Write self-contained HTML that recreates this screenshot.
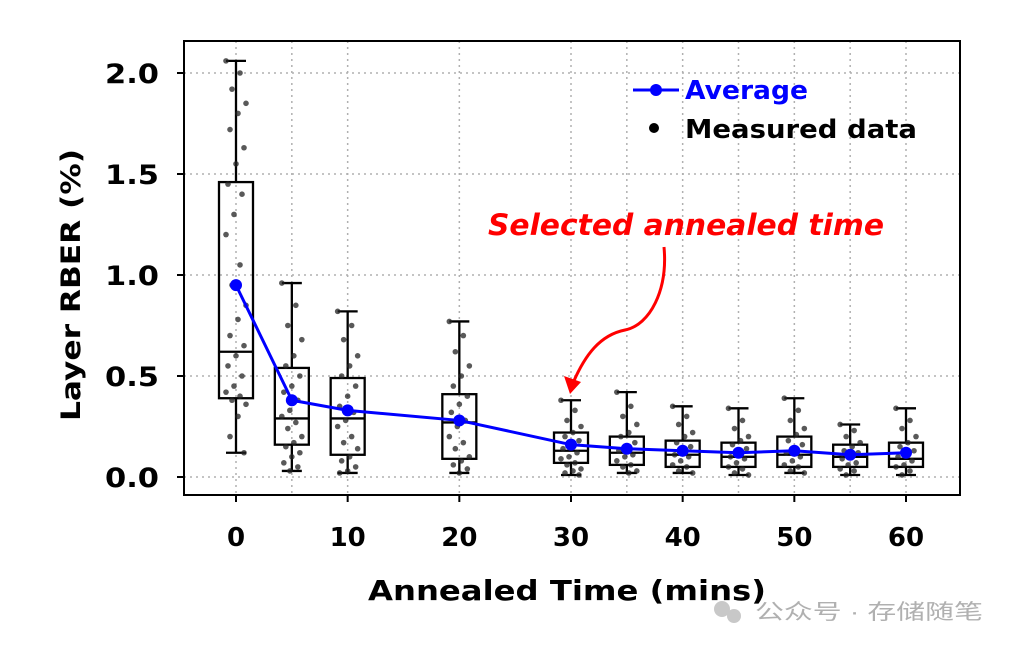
<!DOCTYPE html>
<html><head><meta charset="utf-8"><style>
body{margin:0;background:#fff;}
svg{display:block;font-family:"DejaVu Sans","Liberation Sans",sans-serif;}
</style></head><body>
<svg id="chart" width="1018" height="654">
<rect x="184" y="41" width="776" height="454" fill="#fff"/>
<g id="grid"></g><g id="boxes"></g><g id="dots"></g><g id="avg"></g>
<rect x="184" y="41" width="776" height="454" fill="none" stroke="#000" stroke-width="2"/>
<g id="axes"></g>
<text x="80" y="285" transform="rotate(-90 80 285)" text-anchor="middle" font-size="27" font-weight="bold" textLength="272" lengthAdjust="spacingAndGlyphs">Layer RBER (%)</text>
<text x="567" y="600" text-anchor="middle" font-size="28" font-weight="bold" textLength="398" lengthAdjust="spacingAndGlyphs">Annealed Time (mins)</text>
<g>
<line x1="633" y1="90" x2="679" y2="90" stroke="#0000ff" stroke-width="3"/>
<circle cx="656" cy="90" r="6" fill="#0000ff"/>
<text x="685" y="99" font-size="26" font-weight="bold" fill="#0000ff" textLength="123" lengthAdjust="spacingAndGlyphs">Average</text>
<circle cx="654" cy="128" r="5" fill="#000"/>
<text x="685" y="138" font-size="26" font-weight="bold" fill="#000" textLength="232" lengthAdjust="spacingAndGlyphs">Measured data</text>
</g>
<text x="488" y="235" font-size="29" font-weight="bold" font-style="italic" fill="#ff0000" textLength="396" lengthAdjust="spacingAndGlyphs">Selected annealed time</text>
<path d="M664,247 C668,290 650,325 625,330 C600,335 585,355 573,383" fill="none" stroke="#ff0000" stroke-width="3"/>
<polygon points="570,394 564,376 581,382" fill="#ff0000"/>
<g>
<circle cx="722" cy="609" r="8" fill="#c8c8c8"/><circle cx="734" cy="616" r="7" fill="#c8c8c8"/>
<text x="755" y="619" font-size="21" fill="#b0b0b0" textLength="228" lengthAdjust="spacingAndGlyphs" font-family="'Liberation Sans','Noto Sans CJK SC',sans-serif">公众号 · 存储随笔</text>
</g>
</svg>
<script>
const times=[0,5,10,20,30,35,40,45,50,55,60];
const whiskLo=[0.12,0.03,0.02,0.02,0.01,0.02,0.02,0.01,0.02,0.01,0.01];
const whiskHi=[2.06,0.96,0.82,0.77,0.38,0.42,0.35,0.34,0.39,0.26,0.34];
const q1=[0.39,0.16,0.11,0.09,0.07,0.06,0.05,0.05,0.05,0.05,0.05];
const med=[0.62,0.29,0.29,0.27,0.13,0.12,0.11,0.10,0.11,0.10,0.09];
const q3=[1.46,0.54,0.49,0.41,0.22,0.20,0.18,0.17,0.20,0.16,0.17];
const avg=[0.95,0.38,0.33,0.28,0.16,0.14,0.13,0.12,0.13,0.11,0.12];
const samples=[
[2.06,2.0,1.92,1.85,1.8,1.72,1.63,1.55,1.45,1.4,1.3,1.2,1.05,0.95,0.85,0.78,0.7,0.65,0.6,0.55,0.5,0.45,0.42,0.4,0.38,0.36,0.3,0.2,0.12],
[0.96,0.85,0.75,0.68,0.6,0.55,0.5,0.45,0.42,0.38,0.33,0.3,0.27,0.24,0.2,0.17,0.15,0.12,0.1,0.07,0.05,0.03],
[0.82,0.75,0.68,0.6,0.55,0.5,0.45,0.4,0.35,0.32,0.28,0.25,0.2,0.17,0.14,0.1,0.08,0.05,0.03,0.02],
[0.77,0.7,0.62,0.55,0.5,0.45,0.4,0.36,0.32,0.28,0.25,0.2,0.17,0.14,0.1,0.08,0.06,0.04,0.02],
[0.38,0.33,0.28,0.25,0.22,0.2,0.18,0.16,0.14,0.12,0.1,0.09,0.07,0.06,0.04,0.03,0.02,0.01],
[0.42,0.35,0.3,0.26,0.22,0.2,0.17,0.15,0.13,0.11,0.1,0.08,0.06,0.05,0.03,0.02],
[0.35,0.3,0.26,0.22,0.2,0.17,0.15,0.13,0.11,0.1,0.08,0.06,0.05,0.03,0.02],
[0.34,0.28,0.24,0.2,0.18,0.16,0.14,0.12,0.1,0.09,0.07,0.05,0.04,0.02,0.01],
[0.39,0.33,0.28,0.24,0.21,0.18,0.16,0.14,0.12,0.1,0.08,0.06,0.05,0.03,0.02],
[0.26,0.23,0.2,0.17,0.15,0.13,0.12,0.1,0.09,0.07,0.06,0.04,0.03,0.01],
[0.34,0.28,0.24,0.2,0.17,0.15,0.13,0.11,0.1,0.08,0.06,0.05,0.03,0.01]];
const yTicks=[0,0.5,1.0,1.5,2.0];
const xTicks=[0,10,20,30,40,50,60];
const xGrid=[0,5,10,20,30,35,40,45,50,55,60];
const NS="http://www.w3.org/2000/svg";
const X=t=>236+t*(906-236)/60;
const Y=v=>477-v*202;
function mk(p,tag,at){const e=document.createElementNS(NS,tag);for(const k in at)e.setAttribute(k,at[k]);p.appendChild(e);return e;}
const grid=document.getElementById('grid'),axes=document.getElementById('axes');
yTicks.forEach(v=>{
 const l=mk(grid,'line',{x1:184,x2:960,y1:Y(v),y2:Y(v),stroke:'#b0b0b0','stroke-width':1.5,'stroke-dasharray':'2,4'});
 
 
 mk(axes,'line',{x1:177,x2:184,y1:Y(v),y2:Y(v),stroke:'#000','stroke-width':2});
 const t=mk(axes,'text',{x:159,y:Y(v)+10,'text-anchor':'end','font-size':27,'font-weight':'bold',textLength:54,lengthAdjust:'spacingAndGlyphs'});
 t.textContent=v.toFixed(1);
 
 
});
xGrid.forEach(v=>{
 const l=mk(grid,'line',{x1:X(v),x2:X(v),y1:41,y2:495,stroke:'#b0b0b0','stroke-width':1.5,'stroke-dasharray':'2,4'});
 
 
});
xTicks.forEach(v=>{
 mk(axes,'line',{x1:X(v),x2:X(v),y1:495,y2:502,stroke:'#000','stroke-width':2});
 const t=mk(axes,'text',{x:X(v),y:546,'text-anchor':'middle','font-size':26,'font-weight':'bold'});
 t.textContent=v;
 
 
});
const boxes=document.getElementById('boxes'),dots=document.getElementById('dots');
times.forEach((t,i)=>{
 const cx=X(t);
 const g=mk(boxes,'g',{stroke:'#000','stroke-width':2.3,fill:'none'});
 
 
 mk(g,'line',{x1:cx,x2:cx,y1:Y(whiskHi[i]),y2:Y(q3[i])});
 mk(g,'line',{x1:cx,x2:cx,y1:Y(q1[i]),y2:Y(whiskLo[i])});
 mk(g,'line',{x1:cx-10,x2:cx+10,y1:Y(whiskHi[i]),y2:Y(whiskHi[i])});
 mk(g,'line',{x1:cx-10,x2:cx+10,y1:Y(whiskLo[i]),y2:Y(whiskLo[i])});
 mk(g,'rect',{x:cx-17,y:Y(q3[i]),width:34,height:Y(q1[i])-Y(q3[i])});
 mk(g,'line',{x1:cx-17,x2:cx+17,y1:Y(med[i]),y2:Y(med[i])});
 samples[i].forEach((v,j)=>{
  const off=((j*7)%11-5)*2;
  const c=mk(dots,'circle',{cx:cx+off,cy:Y(v),r:2.8,fill:'#222','fill-opacity':0.75});
  
  
 });
});
const ag=document.getElementById('avg');
const pl=mk(ag,'polyline',{points:times.map((t,i)=>X(t)+','+Y(avg[i])).join(' '),fill:'none',stroke:'#0000ff','stroke-width':3});


times.forEach((t,i)=>{
 const c=mk(ag,'circle',{cx:X(t),cy:Y(avg[i]),r:6,fill:'#0000ff'});
 
 
});
</script>
</body></html>
